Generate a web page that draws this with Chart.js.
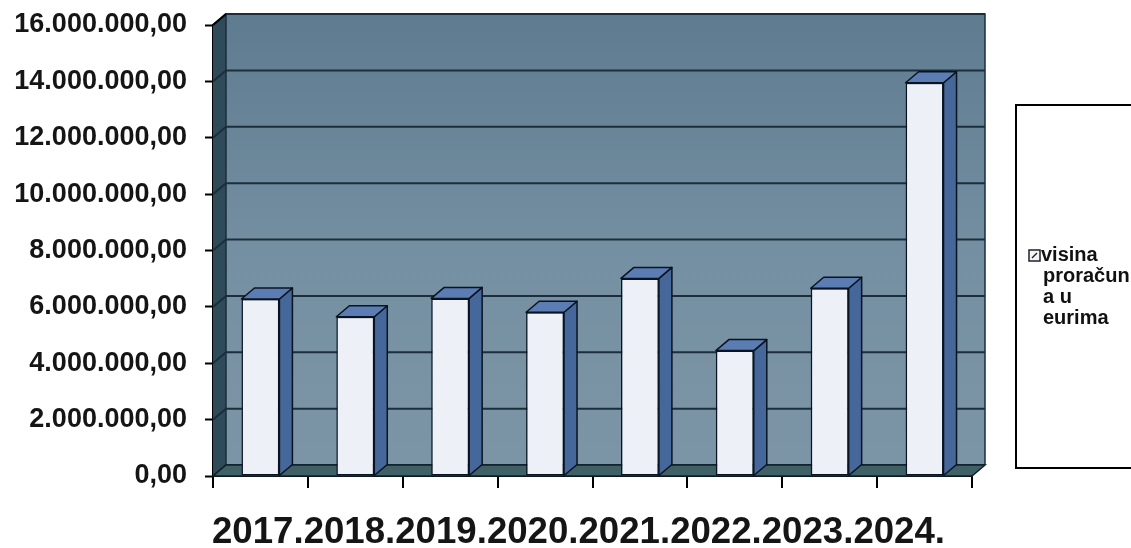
<!DOCTYPE html>
<html>
<head>
<meta charset="utf-8">
<script src="https://cdn.jsdelivr.net/npm/chart.js@4/dist/chart.umd.min.js"></script>
<style>
html,body{margin:0;padding:0;background:#fff;}
#c{display:block;}
</style>
</head>
<body>
<canvas id="c" width="1131" height="548"></canvas>
<script>
const categories = ["2017.", "2018.", "2019.", "2020.", "2021.", "2022.", "2023.", "2024."];
const budgetValues = [6280000, 5650000, 6300000, 5810000, 7010000, 4450000, 6660000, 13950000];
const seriesLabel = "visina proračuna u eurima";
const legendLines = ["visina", "proračun", "a u", "eurima"];
const yTicks = [0, 2000000, 4000000, 6000000, 8000000, 10000000, 12000000, 14000000, 16000000];

const DX = 13, DY = -11;
const FONT = "'Liberation Sans', Arial, sans-serif";

function fmt(v) {
  const s = Math.round(v).toString().replace(/\B(?=(\d{3})+(?!\d))/g, ".");
  return s + ",00";
}

const walls3d = {
  id: 'walls3d',
  beforeDatasetsDraw(chart) {
    const ctx = chart.ctx;
    const {left, right, top, bottom} = chart.chartArea;
    const ys = chart.scales.y;
    ctx.save();
    const g = ctx.createLinearGradient(0, top + DY, 0, bottom + DY);
    g.addColorStop(0, '#5f7b90');
    g.addColorStop(0.55, '#7590a2');
    g.addColorStop(1, '#7c95a6');
    ctx.fillStyle = g;
    ctx.fillRect(left + DX, top + DY, right - left, bottom - top);
    ctx.beginPath();
    ctx.moveTo(left, top);
    ctx.lineTo(left + DX, top + DY);
    ctx.lineTo(left + DX, bottom + DY);
    ctx.lineTo(left, bottom);
    ctx.closePath();
    ctx.fillStyle = '#2f4b5a';
    ctx.fill();
    ctx.strokeStyle = '#1b2e3c';
    ctx.lineWidth = 2;
    yTicks.forEach(v => {
      const y = ys.getPixelForValue(v);
      ctx.beginPath();
      ctx.moveTo(left, y);
      ctx.lineTo(left + DX, y + DY);
      ctx.lineTo(right + DX, y + DY);
      ctx.stroke();
    });
    ctx.lineWidth = 1.5;
    ctx.beginPath();
    ctx.moveTo(left + DX, bottom + DY);
    ctx.lineTo(left + DX, top + DY);
    ctx.lineTo(right + DX, top + DY);
    ctx.lineTo(right + DX, bottom + DY);
    ctx.stroke();
    ctx.strokeStyle = '#000';
    ctx.lineWidth = 2;
    ctx.beginPath();
    ctx.moveTo(left, top);
    ctx.lineTo(left + DX, top + DY);
    ctx.stroke();
    ctx.beginPath();
    ctx.moveTo(left, bottom);
    ctx.lineTo(right, bottom);
    ctx.lineTo(right + DX, bottom + DY);
    ctx.lineTo(left + DX, bottom + DY);
    ctx.closePath();
    ctx.fillStyle = '#3e6066';
    ctx.fill();
    ctx.strokeStyle = '#10202a';
    ctx.lineWidth = 1.5;
    ctx.stroke();
    ctx.restore();
  },
  afterDatasetsDraw(chart) {
    const ctx = chart.ctx;
    const meta = chart.getDatasetMeta(0);
    ctx.save();
    ctx.lineWidth = 1.5;
    ctx.strokeStyle = '#0a1420';
    ctx.lineJoin = 'round';
    meta.data.forEach(bar => {
      const p = bar.getProps(['x', 'y', 'base', 'width'], true);
      const l = p.x - p.width / 2, r = p.x + p.width / 2;
      ctx.beginPath();
      ctx.moveTo(r, p.y);
      ctx.lineTo(r + DX, p.y + DY);
      ctx.lineTo(r + DX, p.base + DY);
      ctx.lineTo(r, p.base);
      ctx.closePath();
      ctx.fillStyle = '#46679a';
      ctx.fill();
      ctx.stroke();
      ctx.beginPath();
      ctx.moveTo(l, p.y);
      ctx.lineTo(l + DX, p.y + DY);
      ctx.lineTo(r + DX, p.y + DY);
      ctx.lineTo(r, p.y);
      ctx.closePath();
      ctx.fillStyle = '#5b7db4';
      ctx.fill();
      ctx.stroke();
    });
    ctx.restore();
  }
};

const categoryText = {
  id: 'categoryText',
  afterDraw(chart) {
    const ctx = chart.ctx;
    const xs = chart.scales.x;
    const text = categories.join('');
    ctx.save();
    ctx.font = 'bold 36.6px ' + FONT;
    ctx.fillStyle = '#151515';
    ctx.textBaseline = 'alphabetic';
    ctx.textAlign = 'left';
    const w = ctx.measureText(text).width;
    const target = 733;
    ctx.translate(xs.left - 1, 543);
    ctx.scale(target / w, 1);
    ctx.fillText(text, 0, 0);
    ctx.restore();
  }
};

const legendBox = {
  id: 'legendBox',
  afterDraw(chart) {
    const ctx = chart.ctx;
    ctx.save();
    ctx.fillStyle = '#fff';
    ctx.fillRect(1016, 105, 130, 363);
    ctx.strokeStyle = '#000';
    ctx.lineWidth = 2;
    ctx.strokeRect(1016, 105, 130, 363);
    ctx.fillStyle = '#f4f5fb';
    ctx.fillRect(1029, 250, 11, 11);
    ctx.strokeStyle = '#222';
    ctx.lineWidth = 1.5;
    ctx.strokeRect(1029, 250, 11, 11);
    ctx.beginPath();
    ctx.moveTo(1032, 258);
    ctx.lineTo(1037, 253);
    ctx.stroke();
    ctx.fillStyle = '#111';
    ctx.font = 'bold 20px ' + FONT;
    ctx.textBaseline = 'alphabetic';
    ctx.textAlign = 'left';
    const baselines = [261, 282, 303, 324];
    legendLines.forEach((t, i) => {
      ctx.fillText(t, i === 0 ? 1041 : 1043, baselines[i]);
    });
    ctx.restore();
  }
};

new Chart(document.getElementById('c'), {
  type: 'bar',
  data: {
    labels: categories,
    datasets: [{
      label: seriesLabel,
      data: budgetValues,
      backgroundColor: '#eef0f8',
      borderColor: '#0a1420',
      borderWidth: 1.5,
      borderSkipped: false,
      categoryPercentage: 1.0,
      barPercentage: 0.40
    }]
  },
  options: {
    responsive: false,
    animation: false,
    devicePixelRatio: 1,
    layout: {padding: {top: 25, right: 159, left: 0, bottom: 0}},
    plugins: {legend: {display: false}, tooltip: {enabled: false}},
    scales: {
      x: {
        grid: {offset: true, drawOnChartArea: false, drawTicks: true, tickLength: 12, tickColor: '#000', lineWidth: 2, tickWidth: 2},
        border: {display: true, color: '#000', width: 2},
        ticks: {display: false},
        afterFit(s) { s.height = 72; s.paddingLeft = 0; s.paddingRight = 0; }
      },
      y: {
        min: 0, max: 16000000,
        afterBuildTicks(s) { s.ticks = yTicks.map(v => ({value: v})); },
        grid: {drawOnChartArea: false, drawTicks: true, tickLength: 8, tickColor: '#000', tickWidth: 2},
        border: {display: true, color: '#000', width: 2},
        ticks: {color: '#151515', padding: 18, callback: v => fmt(v),
          font: {family: FONT, size: 27, weight: 'bold'}},
        afterFit(s) { s.width = 213; s.paddingTop = 0; s.paddingBottom = 0; }
      }
    }
  },
  plugins: [walls3d, categoryText, legendBox]
});
</script>
</body>
</html>
